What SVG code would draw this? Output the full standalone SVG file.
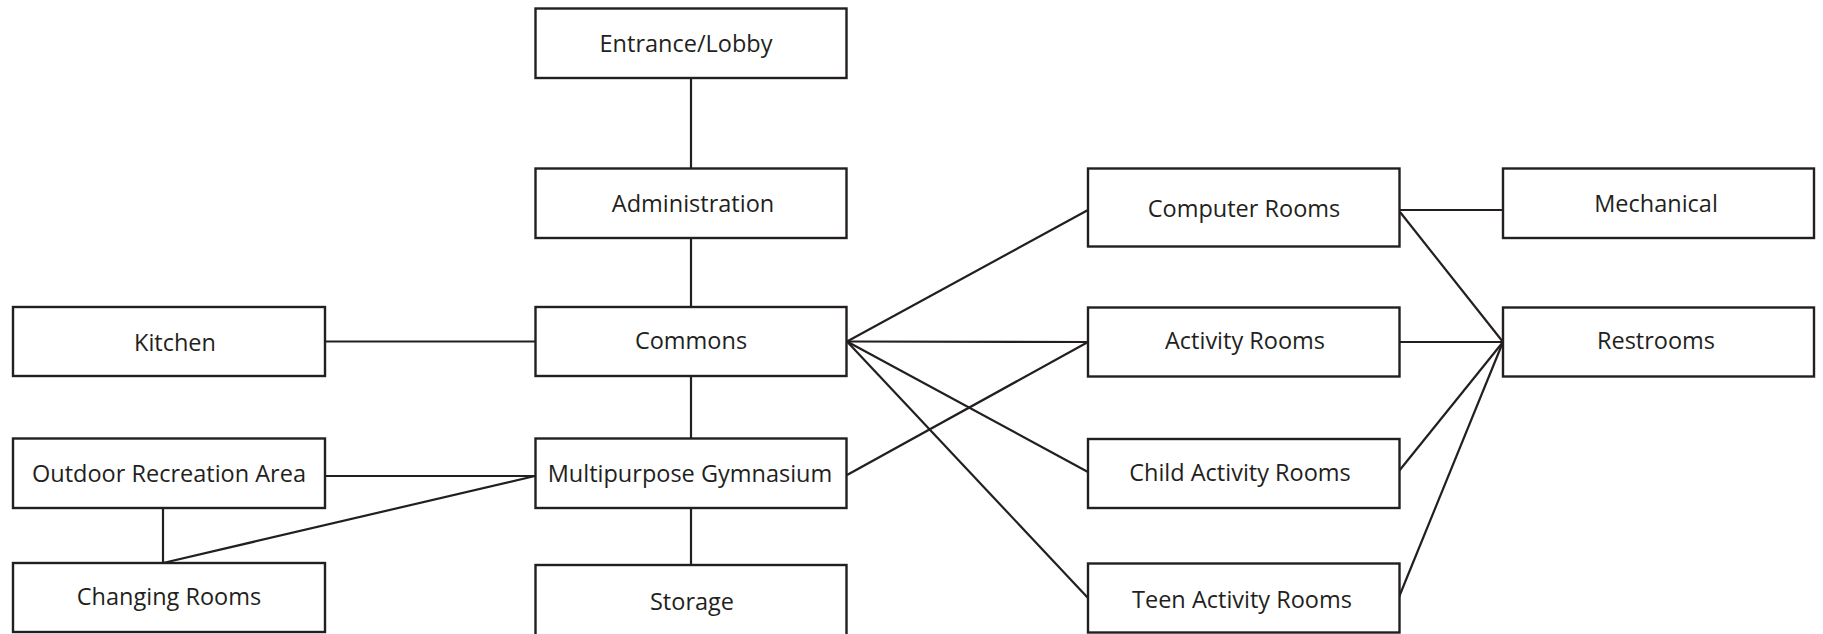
<svg xmlns="http://www.w3.org/2000/svg" width="1823" height="634" viewBox="0 0 1823 634">
  <style>
    .box { fill: #ffffff; stroke: #231f20; stroke-width: 2.4; }
    .lbl { font-family: "Open Sans", "Liberation Sans", sans-serif; font-size: 23.5px; fill: #231f20; text-anchor: middle; }
    .wire { stroke: #231f20; stroke-width: 2.2; fill: none; stroke-linecap: butt; }
  </style>
  <rect width="1823" height="634" fill="#ffffff"/>

  <!-- connectors -->
  <g id="connectors" class="wire">
    <line x1="691" y1="78" x2="691" y2="168.5"/>
    <line x1="691" y1="238" x2="691" y2="307"/>
    <line x1="691" y1="376" x2="691" y2="438.5"/>
    <line x1="691" y1="508" x2="691" y2="565"/>
    <line x1="325" y1="341.5" x2="535" y2="341.5"/>
    <line x1="325" y1="476" x2="535" y2="476"/>
    <line x1="163" y1="508" x2="163" y2="563"/>
    <line x1="163" y1="563" x2="535" y2="476"/>
    <line x1="847" y1="341.5" x2="1088" y2="210"/>
    <line x1="847" y1="341.5" x2="1088" y2="342"/>
    <line x1="847" y1="341.5" x2="1088" y2="472"/>
    <line x1="847" y1="341.5" x2="1088" y2="598"/>
    <line x1="847" y1="475" x2="1088" y2="342"/>
    <line x1="1399" y1="210" x2="1503" y2="210"/>
    <line x1="1400" y1="212" x2="1503" y2="342"/>
    <line x1="1399" y1="342" x2="1503" y2="342"/>
    <line x1="1399" y1="471" x2="1503" y2="342"/>
    <line x1="1399" y1="597" x2="1503" y2="342"/>
  </g>

  <!-- rooms -->
  <g id="entrance">
    <rect class="box" x="535.5" y="8.5" width="311" height="69.5"/>
    <text class="lbl" x="686" y="52">Entrance/Lobby</text>
  </g>
  <g id="administration">
    <rect class="box" x="535.5" y="168.5" width="311" height="69.5"/>
    <text class="lbl" x="693" y="211.5">Administration</text>
  </g>
  <g id="commons">
    <rect class="box" x="535.5" y="307" width="311" height="69"/>
    <text class="lbl" x="691" y="348.5">Commons</text>
  </g>
  <g id="gymnasium">
    <rect class="box" x="535.5" y="438.5" width="311" height="69.5"/>
    <text class="lbl" x="690" y="482">Multipurpose Gymnasium</text>
  </g>
  <g id="storage">
    <rect class="box" x="535.5" y="565" width="311" height="75"/>
    <text class="lbl" x="692" y="610">Storage</text>
  </g>
  <g id="kitchen">
    <rect class="box" x="13" y="307" width="312" height="69"/>
    <text class="lbl" x="175" y="351">Kitchen</text>
  </g>
  <g id="outdoor">
    <rect class="box" x="13" y="438.5" width="312" height="69.5"/>
    <text class="lbl" x="169" y="482">Outdoor Recreation Area</text>
  </g>
  <g id="changing">
    <rect class="box" x="13" y="563" width="312" height="69"/>
    <text class="lbl" x="169" y="604.5">Changing Rooms</text>
  </g>
  <g id="computer">
    <rect class="box" x="1088" y="168.5" width="311.5" height="78"/>
    <text class="lbl" x="1244" y="217">Computer Rooms</text>
  </g>
  <g id="activity">
    <rect class="box" x="1088" y="307.5" width="311.5" height="69"/>
    <text class="lbl" x="1245" y="348.5">Activity Rooms</text>
  </g>
  <g id="child">
    <rect class="box" x="1088" y="439" width="311.5" height="69"/>
    <text class="lbl" x="1240" y="481">Child Activity Rooms</text>
  </g>
  <g id="teen">
    <rect class="box" x="1088" y="563.5" width="311.5" height="69"/>
    <text class="lbl" x="1242" y="607.5">Teen Activity Rooms</text>
  </g>
  <g id="mechanical">
    <rect class="box" x="1503" y="168.5" width="311" height="69.5"/>
    <text class="lbl" x="1656" y="212">Mechanical</text>
  </g>
  <g id="restrooms">
    <rect class="box" x="1503" y="307.5" width="311" height="69"/>
    <text class="lbl" x="1656" y="349">Restrooms</text>
  </g>
</svg>
